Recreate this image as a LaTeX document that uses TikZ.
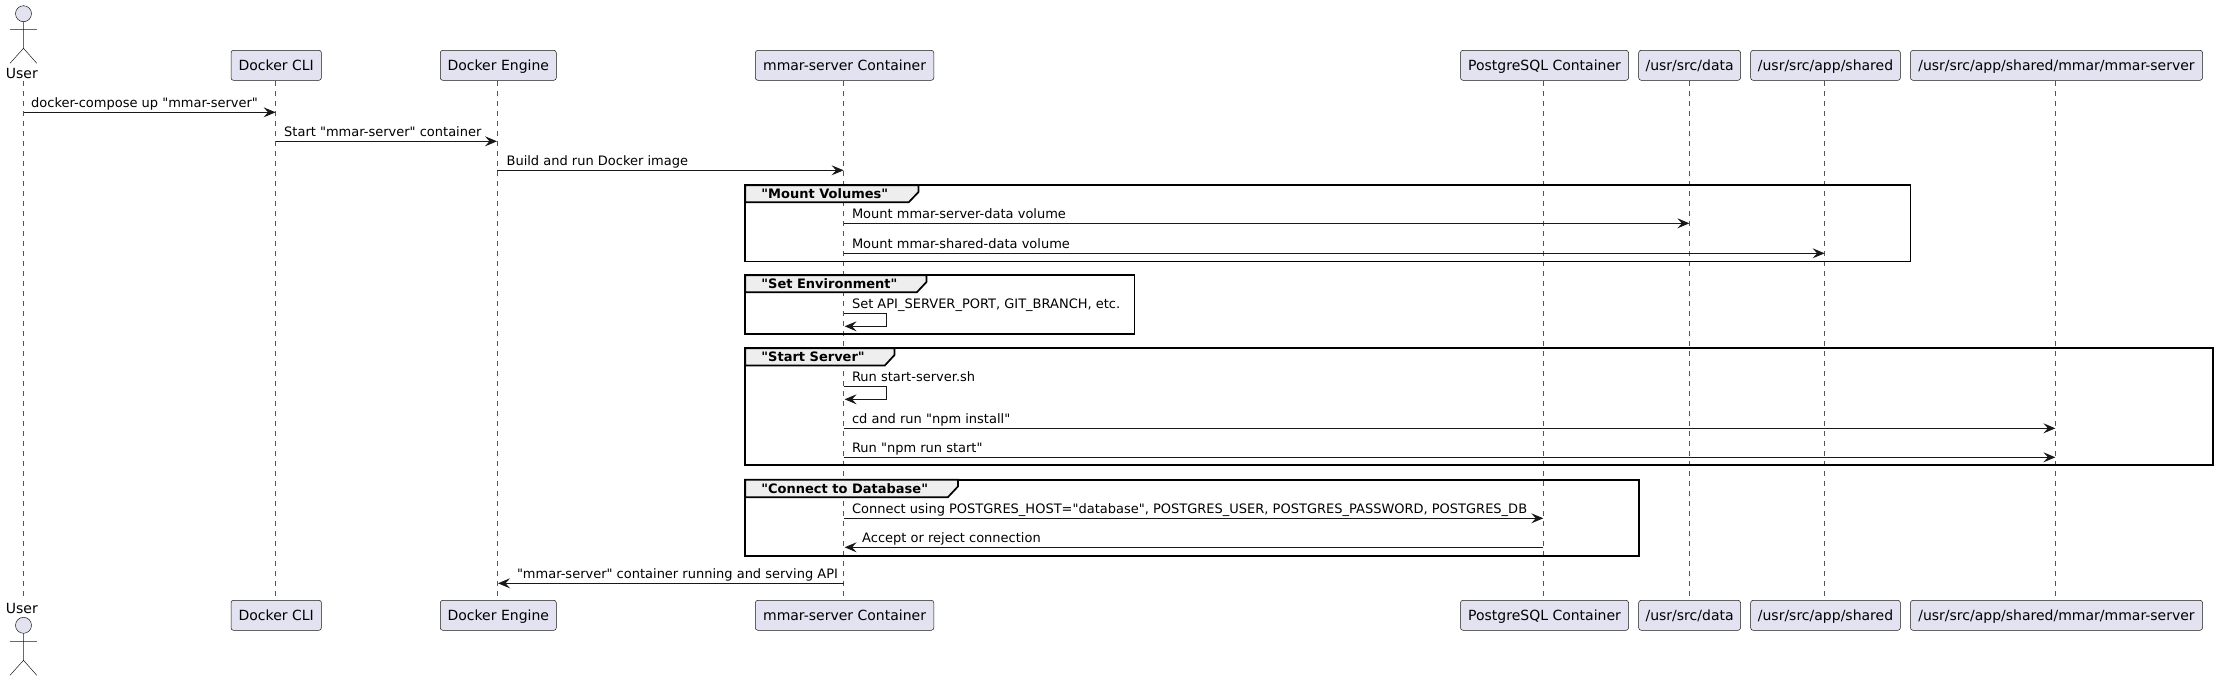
\documentclass[tikz,border=0pt]{standalone}
\usepackage{fontspec}
\newfontfamily\ufont{DejaVu Sans}
\usetikzlibrary{arrows.meta}
\definecolor{partfill}{HTML}{E2E2F0}
\definecolor{partline}{HTML}{181818}
\definecolor{lifeline}{HTML}{555555}
\definecolor{tabfill}{HTML}{EEEEEE}
\tikzset{
    part/.style={draw=partline,line width=0.5pt,fill=partfill,rounded corners=2.5pt,inner sep=0pt,minimum height=30pt,text height=10.5pt,text depth=1pt,font=\ufont\fontsize{14}{16}\selectfont},
    actorline/.style={draw=partline,line width=0.5pt},
    actorhead/.style={circle,draw=partline,line width=0.5pt,fill=partfill,inner sep=0pt,minimum size=16pt},
    actorname/.style={anchor=base west,inner sep=0pt,font=\ufont\fontsize{14}{16}\selectfont},
    life/.style={draw=lifeline,line width=0.5pt,dash pattern=on 5pt off 5pt},
    msg/.style={draw=partline,line width=1pt,-{Stealth[length=12pt,width=10pt,inset=4.5pt]}},
    msgtxt/.style={anchor=base west,inner sep=0pt,text=black,font=\ufont\fontsize{13}{15}\selectfont},
    grpbox/.style={draw=black,line width=1.7pt},
    grptab/.style={draw=black,line width=1.7pt,fill=tabfill},
    grptxt/.style={anchor=base west,inner sep=0pt,font=\ufont\fontsize{13}{15}\selectfont\bfseries}
}
\begin{document}
\begin{tikzpicture}[x=1pt,y=-1pt]
        \useasboundingbox (0,0) rectangle (2217,681);

        \node[part,minimum width=90.4pt] (cli) at (276.2,65.3) {Docker CLI};
        \node[part,minimum width=116pt] (eng) at (498.3,65.3) {Docker Engine};
        \node[part,minimum width=178.4pt] (srv) at (844.6,65.3) {mmar-server Container};
        \node[part,minimum width=168pt] (pg) at (1544.5,65.3) {PostgreSQL Container};
        \node[part,minimum width=101.8pt] (data) at (1689.6,65.3) {/usr/src/data};
        \node[part,minimum width=149.7pt] (shr) at (1825.5,65.3) {/usr/src/app/shared};
        \node[part,minimum width=292pt] (path) at (2056.5,65.3) {/usr/src/app/shared/mmar/mmar-server};

        \node[part,minimum width=90.4pt] (cliB) at (276.2,615.3) {Docker CLI};
        \node[part,minimum width=116pt] (engB) at (498.3,615.3) {Docker Engine};
        \node[part,minimum width=178.4pt] (srvB) at (844.6,615.3) {mmar-server Container};
        \node[part,minimum width=168pt] (pgB) at (1544.5,615.3) {PostgreSQL Container};
        \node[part,minimum width=101.8pt] (dataB) at (1689.6,615.3) {/usr/src/data};
        \node[part,minimum width=149.7pt] (shrB) at (1825.5,615.3) {/usr/src/app/shared};
        \node[part,minimum width=292pt] (pathB) at (2056.5,615.3) {/usr/src/app/shared/mmar/mmar-server};

        % the two actors
        \node[actorhead] (head) at (23.5,13.7) {};
        \node[actorname] (user) at (5.7,78) {User};
        \coordinate (hip) at (23.5,48.3);
        \coordinate (armL) at (10,29.3);
        \coordinate (armR) at (36.8,29.3);
        \coordinate (legL) at (10,63.3);
        \coordinate (legR) at (36.8,63.3);
        \draw[actorline] (head.south) -- (hip) (armL) -- (armR) (legL) -- (hip) -- (legR);
        \node[actorhead] (headB) at (23.5,625.3) {};
        \node[actorname] (userB) at (5.7,613) {User};
        \coordinate (hipB) at (23.5,660.3);
        \coordinate (armLB) at (10,641.3);
        \coordinate (armRB) at (36.8,641.3);
        \coordinate (legLB) at (10,675.3);
        \coordinate (legRB) at (36.8,675.3);
        \draw[actorline] (headB.south) -- (hipB) (armLB) -- (armRB) (legLB) -- (hipB) -- (legRB);

        % life lines
        \coordinate (userT) at (23.5,81); \coordinate (userE) at (23.5,597);
        \coordinate (cliT) at (275.6,81); \coordinate (cliE) at (275.6,597);
        \coordinate (engT) at (497,81); \coordinate (engE) at (497,597);
        \coordinate (srvT) at (843.6,81); \coordinate (srvE) at (843.6,597);
        \coordinate (pgT) at (1543.3,81); \coordinate (pgE) at (1543.3,597);
        \coordinate (dataT) at (1689.4,81); \coordinate (dataE) at (1689.4,597);
        \coordinate (shrT) at (1824.6,81); \coordinate (shrE) at (1824.6,597);
        \coordinate (pathT) at (2055.4,81); \coordinate (pathE) at (2055.4,597);
        \draw[life] (userT) -- (userE);
        \draw[life] (cliT) -- (cliE);
        \draw[life] (engT) -- (engE);
        \draw[life] (srvT) -- (srvE);
        \draw[life] (pgT) -- (pgE);
        \draw[life] (dataT) -- (dataE);
        \draw[life] (shrT) -- (shrE);
        \draw[life] (pathT) -- (pathE);

        % groups
        \draw[grpbox] (745.2,185.3) rectangle (1910.5,261.5);
        \draw[grptab] (745.2,185.3) -- (918.5,185.3) -- (918.5,192) -- (908.7,202.3) -- (745.2,202.3) -- cycle;
        \node[grptxt] (grpA) at (761.2,198.8) {"Mount Volumes"};
        \draw[grpbox] (745.2,275.3) rectangle (1134.4,334.3);
        \draw[grptab] (745.2,275.3) -- (926.5,275.3) -- (926.5,282) -- (916.8,292.3) -- (745.2,292.3) -- cycle;
        \node[grptxt] (grpB) at (761.2,288.8) {"Set Environment"};
        \draw[grpbox] (745.2,348.3) rectangle (2213.3,465.3);
        \draw[grptab] (745.2,348.3) -- (894.5,348.3) -- (894.5,355) -- (884.8,365.5) -- (745.2,365.5) -- cycle;
        \node[grptxt] (grpC) at (761.2,361.8) {"Start Server"};
        \draw[grpbox] (745.2,479.7) rectangle (1639,555.7);
        \draw[grptab] (745.2,479.7) -- (958,479.7) -- (958,486.4) -- (947.8,497.3) -- (745.2,497.3) -- cycle;
        \node[grptxt] (grpD) at (761.2,493.8) {"Connect to Database"};

        % messages
        \coordinate (a1) at (userT |- 0,112.3); \coordinate (b1) at (cliT |- 0,112.3);
        \draw[msg] (a1) -- (b1);
        \node[msgtxt] (t1) at (31,107) {docker-compose up "mmar-server"};
        \coordinate (a2) at (cliT |- 0,141.3); \coordinate (b2) at (engT |- 0,141.3);
        \draw[msg] (a2) -- (b2);
        \node[msgtxt] (t2) at (284,136) {Start "mmar-server" container};
        \coordinate (a3) at (engT |- 0,170.3); \coordinate (b3) at (srvT |- 0,170.3);
        \draw[msg] (a3) -- (b3);
        \node[msgtxt] (t3) at (506.4,165) {Build and run Docker image};
        \coordinate (a4) at (srvT |- 0,223.3); \coordinate (b4) at (dataT |- 0,223.3);
        \draw[msg] (a4) -- (b4);
        \node[msgtxt] (t4) at (851.8,218.3) {Mount mmar-server-data volume};
        \coordinate (a5) at (srvT |- 0,253.3); \coordinate (b5) at (shrT |- 0,253.3);
        \draw[msg] (a5) -- (b5);
        \node[msgtxt] (t5) at (851.8,248) {Mount mmar-shared-data volume};
        \coordinate (a6) at (srvT |- 0,313.3); \coordinate (b6) at (844.6,326.3);
        \draw[msg] (a6) -- (886.7,313.3) -- (886.7,326.3) -- (b6);
        \node[msgtxt] (t6) at (851.8,308) {Set API\_SERVER\_PORT, GIT\_BRANCH, etc.};
        \coordinate (a7) at (srvT |- 0,386.3); \coordinate (b7) at (844.6,399.3);
        \draw[msg] (a7) -- (886.7,386.3) -- (886.7,399.3) -- (b7);
        \node[msgtxt] (t7) at (851.8,381.3) {Run start-server.sh};
        \coordinate (a8) at (srvT |- 0,428.3); \coordinate (b8) at (pathT |- 0,428.3);
        \draw[msg] (a8) -- (b8);
        \node[msgtxt] (t8) at (851.8,423) {cd and run "npm install"};
        \coordinate (a9) at (srvT |- 0,457.3); \coordinate (b9) at (pathT |- 0,457.3);
        \draw[msg] (a9) -- (b9);
        \node[msgtxt] (t9) at (851.8,452) {Run "npm run start"};
        \coordinate (a10) at (srvT |- 0,518.3); \coordinate (b10) at (pgT |- 0,518.3);
        \draw[msg] (a10) -- (b10);
        \node[msgtxt] (t10) at (851.8,513.2) {Connect using POSTGRES\_HOST="database", POSTGRES\_USER, POSTGRES\_PASSWORD, POSTGRES\_DB};
        \coordinate (a11) at (pgT |- 0,547.3); \coordinate (b11) at (844.6,547.3);
        \draw[msg] (a11) -- (b11);
        \node[msgtxt] (t11) at (862,542) {Accept or reject connection};
        \coordinate (a12) at (srvT |- 0,583.3); \coordinate (b12) at (498,583.3);
        \draw[msg] (a12) -- (b12);
        \node[msgtxt] (t12) at (516.8,578) {"mmar-server" container running and serving API};

    \end{tikzpicture}
\end{document}
